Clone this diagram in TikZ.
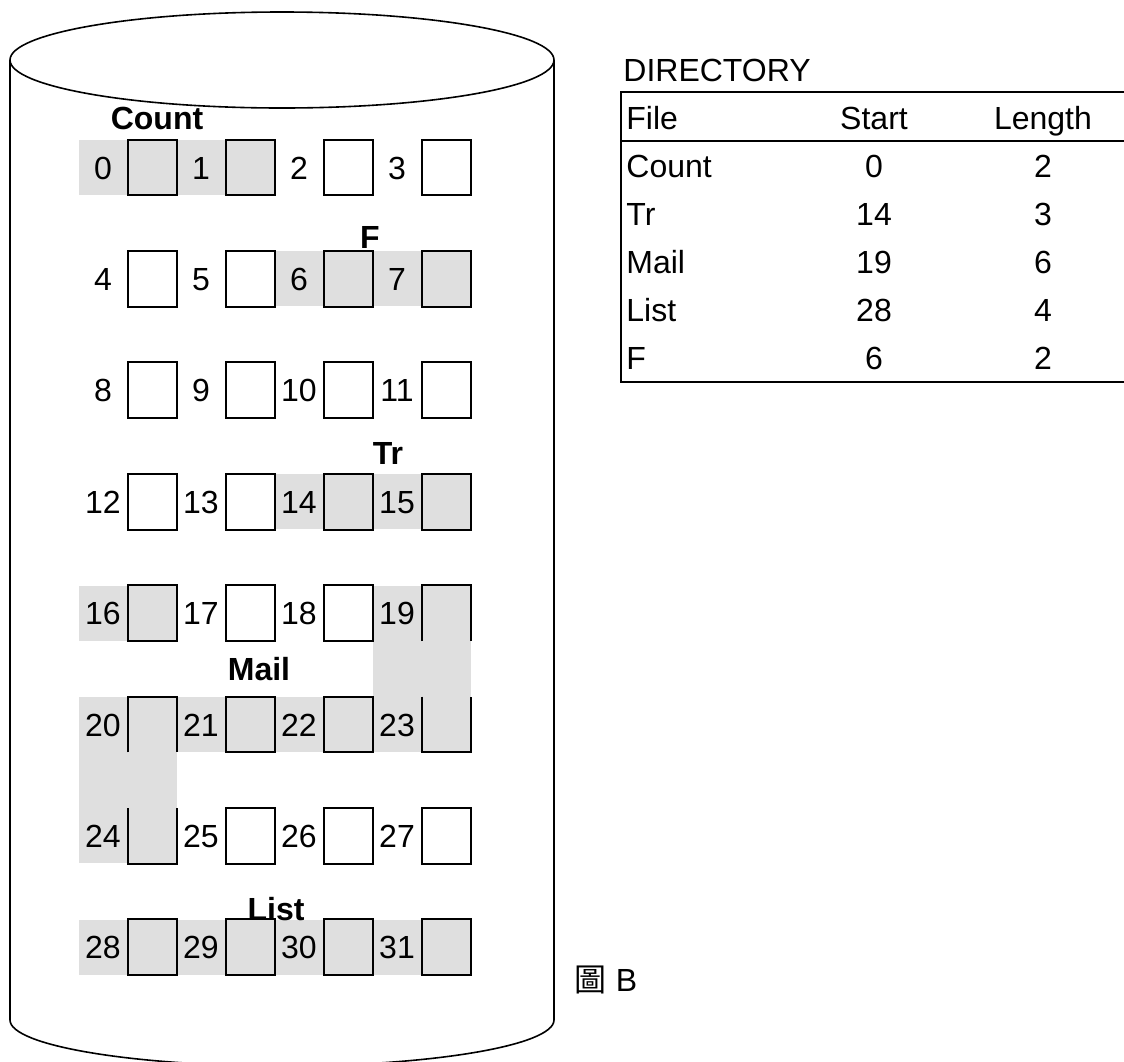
\documentclass[tikz,border=0pt]{standalone}
\usepackage{fontspec}
\setmainfont{Liberation Sans}
\newfontfamily\cjk{Noto Sans CJK TC}
\usetikzlibrary{positioning}
\definecolor{usedgrey}{RGB}{223,223,223}

\begin{document}
\begin{tikzpicture}[
x=0.5pt, y=-0.5pt,
edge/.style={line width=1pt},
blk/.style={minimum width=24.5pt, minimum height=27.5pt, inner sep=0pt},
num/.style={font=\fontsize{16}{19}\selectfont, inner sep=1pt, text height=11.5pt, text depth=0pt},
tag/.style={font=\fontsize{16}{19}\selectfont\bfseries, inner sep=1pt}
]
\useasboundingbox (0,0) rectangle (1124,1061);

% disk
\draw[line width=0.8pt] (282,60) ellipse [x radius=136pt, y radius=24pt];
\draw[line width=0.8pt] (10,60) -- (10,1020)
  arc[start angle=180, end angle=360, x radius=136pt, y radius=23pt] -- (554,60);

% allocated runs
\fill[usedgrey] (79,140) rectangle (275,195);
\fill[usedgrey] (275,251.4) rectangle (471,306.4);
\fill[usedgrey] (275,474.2) rectangle (471,529.2);
\fill[usedgrey] (79,585.6) rectangle (177,640.6);
\fill[usedgrey] (373,585.6) rectangle (471,697);
\fill[usedgrey] (79,697) rectangle (471,752);
\fill[usedgrey] (79,752) rectangle (177,863.4);
\fill[usedgrey] (79,919.8) rectangle (471,974.8);

% blocks
\foreach \r in {0,...,7}
  \foreach \c in {0,...,3} {
    \pgfmathtruncatemacro{\n}{4*\r+\c}
    \node[num] (n\n) at (103+98*\c, 167.5+111.4*\r) {\n};
    \node[blk] (b\n) at (152.5+98*\c, 167.5+111.4*\r) {};
  }
\foreach \n in {0,...,18,21,22,25,26,...,31}
  \draw[edge] (b\n.north west) rectangle (b\n.south east);
\draw[edge] (b19.south west) |- (b19.north east) -- (b19.south east);
\draw[edge] (b20.south west) |- (b20.north east) -- (b20.south east);
\draw[edge] (b23.north west) |- (b23.south east) -- (b23.north east);
\draw[edge] (b24.north west) |- (b24.south east) -- (b24.north east);

\node[tag] (count) at (157,118) {Count};
\node[tag] (ftag) at (370,237) {F};
\node[tag] (trtag) at (388,453) {Tr};
\node[tag] (mail) at (259,669) {Mail};
\node[tag] (list) at (276,909) {List};

% directory
\node[num, anchor=west] (dir) at (621,70) {DIRECTORY};
\draw[edge] (1124,92) -| (621,382) -- (1124,382);
\draw[edge] (621,141) -- (1124,141);
\foreach \f/\s/\l [count=\i] in {File/Start/Length, Count/0/2, Tr/14/3, Mail/19/6, List/28/4, F/6/2} {
  \node[num, anchor=west] (file\i) at (624,70+48*\i) {\f};
  \node[num] (start\i) at (874,70+48*\i) {\s};
  \node[num] (len\i) at (1043,70+48*\i) {\l};
}

\node[num] (fig) at (606,980) {{\cjk 圖} B};
\end{tikzpicture}
\end{document}
